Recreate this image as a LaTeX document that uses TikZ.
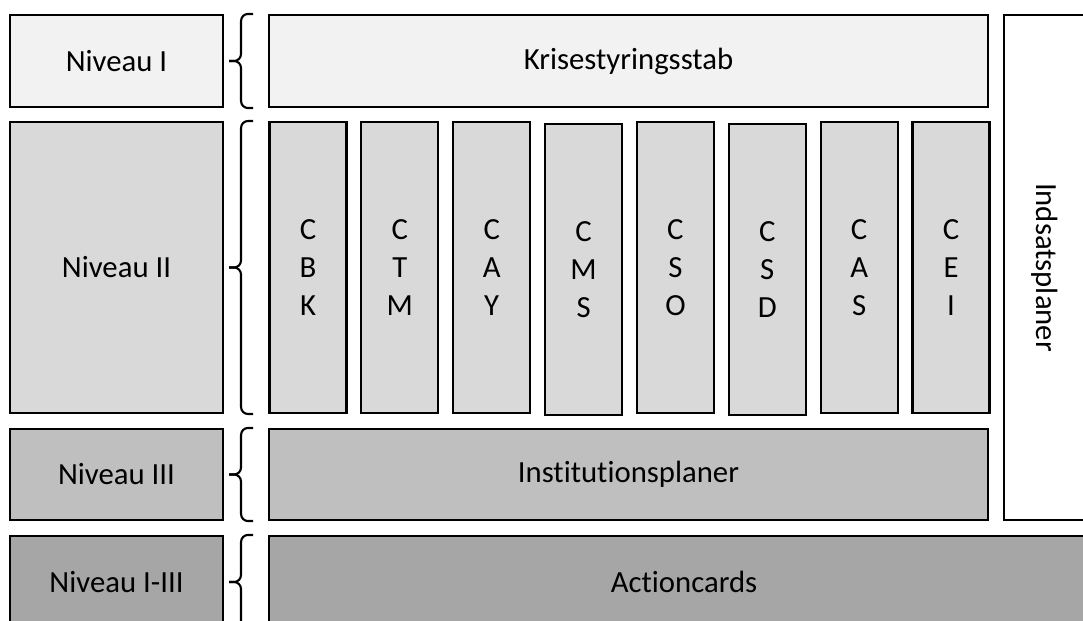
\documentclass[tikz,border=0pt]{standalone}
\usepackage{fontspec}
\setmainfont{Carlito}[Ligatures=NoCommon]
\definecolor{lvA}{HTML}{F2F2F2}
\definecolor{lvB}{HTML}{D9D9D9}
\definecolor{lvC}{HTML}{BFBFBF}
\definecolor{lvD}{HTML}{A6A6A6}
\begin{document}
\begin{tikzpicture}[x=0.02cm, y=-0.02cm, font=\fontsize{17.5}{21.5}\selectfont,
    box/.style={draw, line width=1.2pt, inner sep=0pt},
    brace/.style={line width=1.2pt, rounded corners=4pt}]
    \clip (0,0) rectangle (1083,621);
    % levels
    \node[box, fill=lvA, minimum width=4.26cm, minimum height=1.84cm] (lv1) at (116.5,61) {Niveau I};
    \node[box, fill=lvB, minimum width=4.26cm, minimum height=5.82cm] (lv2) at (116.5,267.5) {Niveau II};
    \node[box, fill=lvC, minimum width=4.26cm, minimum height=1.82cm] (lv3) at (116.5,474.5) {Niveau III};
    \node[box, fill=lvD, minimum width=4.26cm, minimum height=1.84cm] (lv4) at (116.5,582) {Niveau I-III};
    % plans
    \node[box, fill=lvA, minimum width=14.38cm, minimum height=1.84cm] (krise) at (628.5,61) {Krisestyringsstab};
    \foreach \name/\txt/\dy [count=\i from 0] in {cbk/C\\B\\K/0, ctm/C\\T\\M/0, cay/C\\A\\Y/0, cms/C\\M\\S/2,
        cso/C\\S\\O/0, csd/C\\S\\D/2, cas/C\\A\\S/0, cei/C\\E\\I/0}
        \node[box, fill=lvB, minimum width=1.54cm, minimum height=5.82cm, align=center] (\name) at (308+91.86*\i,267.5+\dy) {\txt};
    \node[box, fill=lvC, minimum width=14.38cm, minimum height=1.82cm] (inst) at (628.5,474.5) {Institutionsplaner};
    \node[box, fill=lvD, minimum width=16.6cm, minimum height=1.84cm] (action) at (684,582) {Actioncards};
    \node[box, fill=white, rotate=-90, minimum width=10.1cm, minimum height=1.64cm] (indsats) at (1045,267.5) {Indsatsplaner};
    % braces
    \foreach \n in {lv1,lv2,lv3,lv4} {
        \draw[brace] ([xshift=0.58cm]\n.north east) -| ([xshift=0.34cm]\n.east) -- ([xshift=0.1cm]\n.east);
        \draw[brace] ([xshift=0.1cm]\n.east) -| ([xshift=0.34cm]\n.south east) -- ([xshift=0.58cm]\n.south east);
    }
\end{tikzpicture}
\end{document}
